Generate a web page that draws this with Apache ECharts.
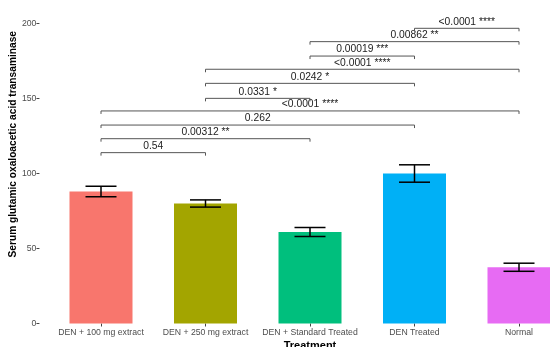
<!DOCTYPE html>
<html>
<head>
<meta charset="utf-8">
<script src="https://cdn.jsdelivr.net/npm/echarts@6/dist/echarts.min.js"></script>
<style>html,body{margin:0;padding:0;background:#fff;}#c{width:550px;height:347px;}</style>
</head>
<body>
<div id="c"></div>
<script>
const categories = ['DEN + 100 mg extract', 'DEN + 250 mg extract', 'DEN + Standard Treated', 'DEN Treated', 'Normal'];
const means = [88, 80, 61, 100, 37.5];
const errors = [3.5, 2.4, 3, 5.8, 2.7];
const yTicks = [0, 50, 100, 150, 200];
const bracketStart = [0, 0, 0, 0, 1, 1, 1, 2, 2, 3];
const bracketEnd = [1, 2, 3, 4, 2, 3, 4, 3, 4, 4];
const bracketY = [113.9, 123.2, 132.3, 141.7, 150.1, 160.1, 169.5, 178.3, 187.9, 196.8];
const bracketLabels = ['0.54', '0.00312 **', '0.262', '<0.0001 ****', '0.0331 *', '0.0242 *', '<0.0001 ****', '0.00019 ***', '0.00862 **', '<0.0001 ****'];

const barColors = ['#F8766D', '#A3A500', '#00BF7D', '#00B0F6', '#E76BF3'];
const FONT = '"Liberation Sans", Arial, sans-serif';

const chart = echarts.init(document.getElementById('c'), null, {renderer: 'canvas'});

const errData = categories.map((c, i) => [i, means[i] - errors[i], means[i] + errors[i]]);
const brData = bracketY.map((y, i) => [bracketStart[i], bracketEnd[i], y, i]);

chart.setOption({
  backgroundColor: '#ffffff',
  animation: false,
  grid: {left: 48.75, top: -35, width: 522.5, bottom: 23.5, containLabel: false, outerBoundsMode: 'none'},
  xAxis: {
    type: 'category',
    data: categories,
    axisLine: {show: false},
    axisTick: {show: true, alignWithLabel: true, length: 3, lineStyle: {color: '#444', width: 1}},
    axisLabel: {color: '#4d4d4d', fontSize: 8.7, fontFamily: FONT, margin: 5, interval: 0},
    name: 'Treatment',
    nameLocation: 'middle',
    nameGap: 17,
    nameMoveOverlap: false,
    nameTextStyle: {color: '#000', fontSize: 11, fontWeight: 'bold', fontFamily: FONT}
  },
  yAxis: {
    type: 'value',
    min: 0,
    max: 239,
    interval: 50,
    offset: 9.3,
    splitLine: {show: false},
    axisLine: {show: false},
    axisTick: {show: true, length: 3, lineStyle: {color: '#444', width: 1}},
    axisLabel: {color: '#4d4d4d', fontSize: 8.7, fontFamily: FONT, margin: 3, showMaxLabel: false,
      formatter: v => yTicks.indexOf(v) >= 0 ? String(v) : ''},
    name: 'Serum glutamic oxaloacetic acid transaminase',
    nameLocation: 'middle',
    nameGap: 21,
    nameMoveOverlap: false,
    nameTextStyle: {color: '#000', fontSize: 10.2, fontWeight: 'bold', fontFamily: FONT}
  },
  series: [
    {
      type: 'bar',
      data: means.map((v, i) => ({value: v, itemStyle: {color: barColors[i]}})),
      barWidth: 63,
      z: 1
    },
    {
      type: 'custom',
      z: 3,
      data: errData,
      renderItem: function (params, api) {
        const x = api.value(0);
        const lo = api.coord([x, api.value(1)]);
        const hi = api.coord([x, api.value(2)]);
        const hw = 15.5;
        const st = {stroke: '#000', lineWidth: 1.5};
        return {
          type: 'group',
          children: [
            {type: 'line', shape: {x1: lo[0], y1: lo[1], x2: hi[0], y2: hi[1]}, style: st},
            {type: 'line', shape: {x1: lo[0] - hw, y1: lo[1], x2: lo[0] + hw, y2: lo[1]}, style: st},
            {type: 'line', shape: {x1: hi[0] - hw, y1: hi[1], x2: hi[0] + hw, y2: hi[1]}, style: st}
          ]
        };
      }
    },
    {
      type: 'custom',
      z: 4,
      clip: false,
      data: brData,
      renderItem: function (params, api) {
        const a = api.coord([api.value(0), api.value(2)]);
        const b = api.coord([api.value(1), api.value(2)]);
        const idx = api.value(3);
        const tip = 3;
        const st = {stroke: '#555', lineWidth: 1, fill: null};
        return {
          type: 'group',
          children: [
            {type: 'polyline', shape: {points: [[a[0], a[1] + tip], [a[0], a[1]], [b[0], b[1]], [b[0], b[1] + tip]]}, style: st},
            {type: 'text', x: (a[0] + b[0]) / 2, y: a[1] - 1.5,
              style: {text: bracketLabels[idx], fill: '#222', font: '10.3px ' + FONT, align: 'center', verticalAlign: 'bottom'}}
          ]
        };
      }
    }
  ]
});
</script>
</body>
</html>
